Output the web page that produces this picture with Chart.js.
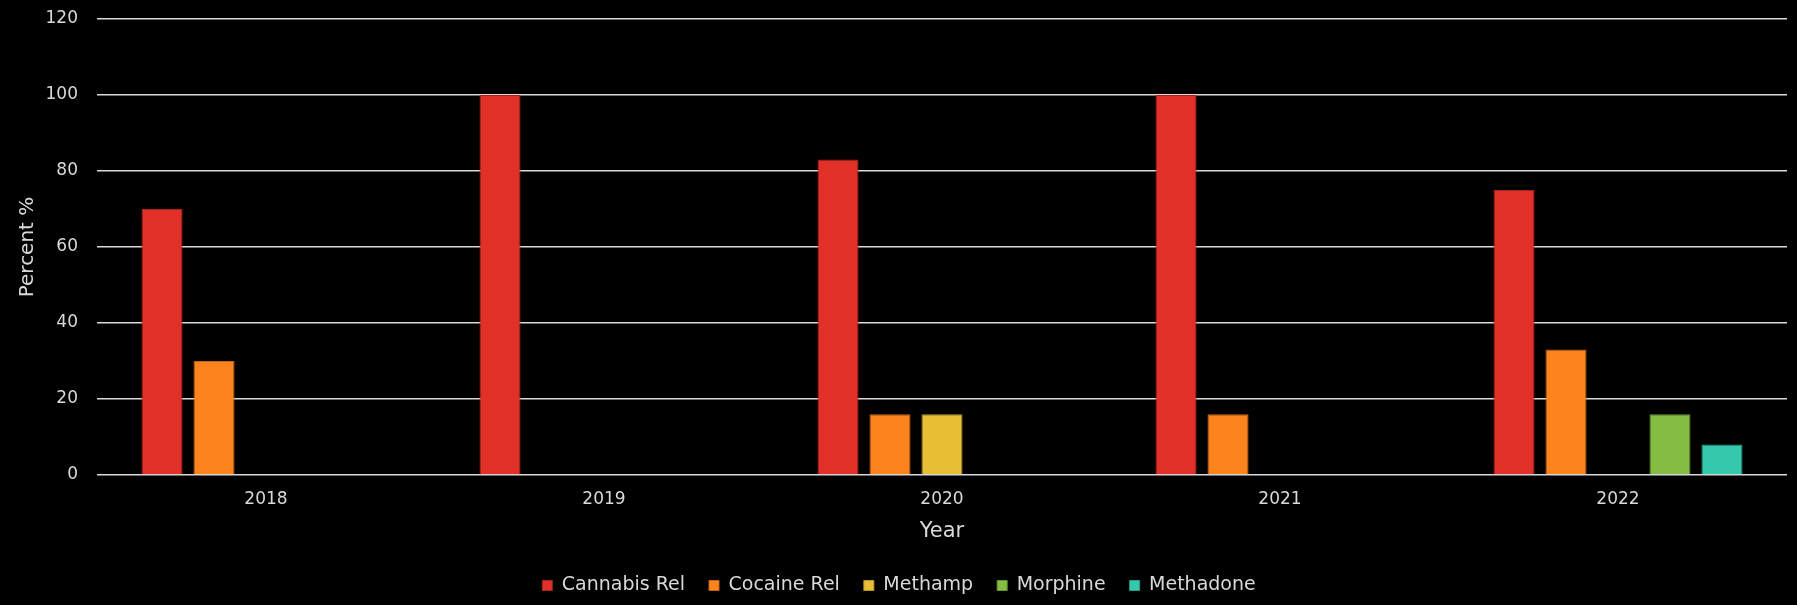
<!DOCTYPE html>
<html>
<head>
<meta charset="utf-8">
<script src="https://cdn.jsdelivr.net/npm/chart.js@4.4.1/dist/chart.umd.min.js"></script>
<style>
  html, body { margin: 0; padding: 0; background: #000; }
  #wrap { width: 1797px; height: 605px; }
</style>
</head>
<body>
<div id="wrap"><canvas id="c"></canvas></div>
<script>
const categories = ['2018', '2019', '2020', '2021', '2022'];
const cannabisRel = [70, 100, 83, 100, 75];
const cocaineRel  = [30, null, 16, 16, 33];
const methamp     = [null, null, 16, null, null];
const morphine    = [null, null, null, null, 16];
const methadone   = [null, null, null, null, 8];
const seriesNames = ['Cannabis Rel', 'Cocaine Rel', 'Methamp', 'Morphine', 'Methadone'];
const yTicks = [0, 20, 40, 60, 80, 100, 120];

const fills   = ['#E03028', '#FD841D', '#E8BE34', '#84BC44', '#34C8AC'];
const borders = ['#A8231D', '#C56616', '#B8952A', '#679335', '#289C86'];
const values  = [cannabisRel, cocaineRel, methamp, morphine, methadone];

const FONT = '"DejaVu Sans", sans-serif';
const TXT = '#D9D9D9';

new Chart(document.getElementById('c'), {
  type: 'bar',
  data: {
    labels: categories,
    datasets: seriesNames.map((name, i) => ({
      label: name,
      data: values[i],
      backgroundColor: fills[i],
      borderColor: borders[i],
      borderWidth: 1,
      categoryPercentage: 0.769,
      barPercentage: 0.79
    }))
  },
  options: {
    responsive: true,
    maintainAspectRatio: false,
    animation: false,
    layout: { padding: { left: 11, right: 10, top: 19, bottom: 0 } },
    plugins: {
      legend: {
        position: 'bottom',
        labels: {
          color: TXT,
          font: { family: FONT, size: 19 },
          boxWidth: 10,
          boxHeight: 10,
          padding: 24
        }
      },
      tooltip: { enabled: false }
    },
    scales: {
      x: {
        grid: { display: false, drawTicks: false },
        border: { display: false },
        ticks: { color: TXT, font: { family: FONT, size: 17 }, padding: 14 },
        title: {
          display: true, text: 'Year', color: TXT,
          font: { family: FONT, size: 21 },
          padding: { top: 10, bottom: 8 }
        },
        afterFit: (scale) => { scale.height = 77; scale.paddingLeft = 0; scale.paddingRight = 0; }
      },
      y: {
        min: 0, max: 120,
        afterBuildTicks: (axis) => { axis.ticks = yTicks.map(v => ({ value: v })); },
        grid: { color: '#D9D9D9', lineWidth: 1.5, drawTicks: false },
        border: { display: false },
        ticks: { color: TXT, font: { family: FONT, size: 17 }, padding: 19 },
        title: {
          display: true, text: 'Percent %', color: TXT,
          font: { family: FONT, size: 20 },
          padding: { top: 4.5, bottom: 8 }
        },
        afterFit: (scale) => { scale.width = 86; scale.paddingTop = 0; scale.paddingBottom = 0; }
      }
    }
  }
});
</script>
</body>
</html>
